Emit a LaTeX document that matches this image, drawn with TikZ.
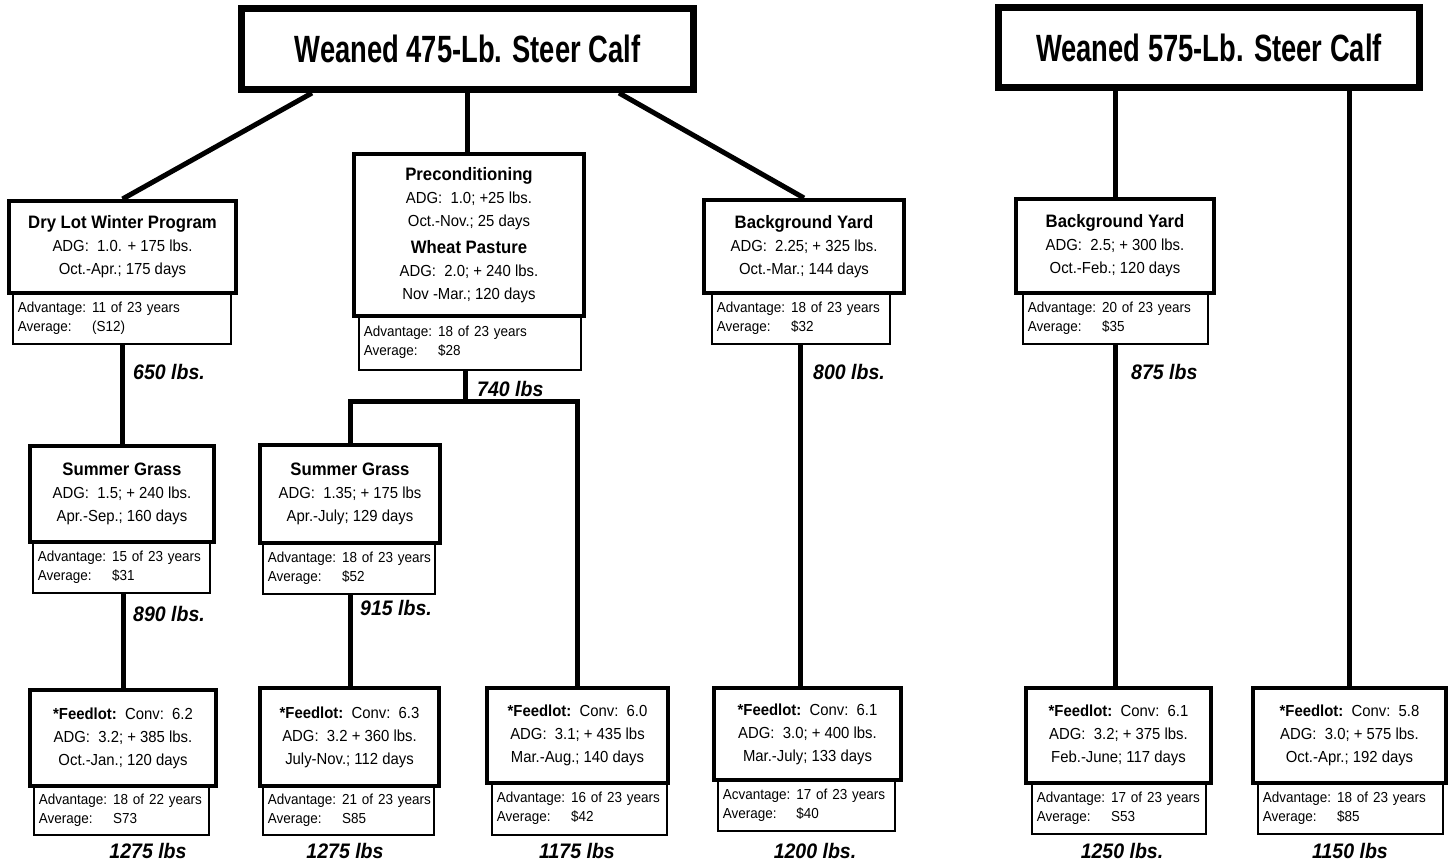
\documentclass[tikz,border=0pt]{standalone}
\usepackage{fontspec}
\setmainfont[FakeStretch=0.93]{Liberation Sans}
\newfontfamily\titlefont[FakeStretch=0.72]{Liberation Sans}
\usetikzlibrary{calc}
\newcommand\hd[1]{{\fontsize{18}{23}\selectfont\bfseries #1}}
\newcommand\advtab[2]{\begin{tabular}{@{}l@{\hspace{6pt}}l@{}}Advantage: & #1\\ Average: & #2\end{tabular}}
\tikzset{
  titlebox/.style={draw, line width=7pt, anchor=north west, inner sep=0pt, align=center,
    font=\titlefont\fontsize{38}{44}\selectfont\bfseries},
  mainbox/.style={draw, line width=4pt, anchor=north west, inner sep=0pt, align=center,
    font=\fontsize{16}{23}\selectfont},
  subbox/.style={draw, line width=1.8pt, anchor=north west, inner xsep=5pt, inner ysep=0pt,
    align=left, font=\fontsize{14.5}{19}\selectfont},
  wlabel/.style={inner sep=0pt, font=\fontsize{21}{24}\selectfont\bfseries\itshape},
  conn/.style={line width=5pt}
}
\begin{document}
\begin{tikzpicture}[x=1pt,y=-1pt]
\useasboundingbox (0,0) rectangle (1448,864);
% sub boxes
\node[subbox, minimum width=218, text width=208, minimum height=52] (drysub) at (12,291) {\advtab{11 of 23 years}{(S12)}};
\node[subbox, minimum width=177, text width=167, minimum height=52] (sg1sub) at (32,540) {\advtab{15 of 23 years}{\$31}};
\node[subbox, minimum width=175, text width=165, minimum height=50] (fl1sub) at (33,784) {\advtab{18 of 22 years}{S73}};
\node[subbox, minimum width=222, text width=212, minimum height=55] (precsub) at (358,314) {\advtab{18 of 23 years}{\$28}};
\node[subbox, minimum width=172, text width=162, minimum height=52] (sg2sub) at (262,541) {\advtab{18 of 23 years}{\$52}};
\node[subbox, minimum width=171, text width=161, minimum height=50] (fl2sub) at (262,784) {\advtab{21 of 23 years}{S85}};
\node[subbox, minimum width=175, text width=165, minimum height=53] (fl3sub) at (491,781) {\advtab{16 of 23 years}{\$42}};
\node[subbox, minimum width=178, text width=168, minimum height=52] (by1sub) at (711,291) {\advtab{18 of 23 years}{\$32}};
\node[subbox, minimum width=177, text width=167, minimum height=52] (fl4sub) at (717,778) {\begin{tabular}{@{}l@{\hspace{6pt}}l@{}}Acvantage: & 17 of 23 years\\ Average: & \$40\end{tabular}};
\node[subbox, minimum width=185, text width=175, minimum height=52] (by2sub) at (1022,291) {\advtab{20 of 23 years}{\$35}};
\node[subbox, minimum width=174, text width=164, minimum height=52] (fl5sub) at (1031,781) {\advtab{17 of 23 years}{S53}};
\node[subbox, minimum width=185, text width=175, minimum height=52] (fl6sub) at (1257,781) {\advtab{18 of 23 years}{\$85}};
% title boxes
\node[titlebox, minimum width=452, minimum height=81] (t1) at (238,5) {Weaned 475-Lb. Steer Calf};
\node[titlebox, minimum width=421, minimum height=80] (t2) at (995,4) {Weaned 575-Lb. Steer Calf};
% main boxes
\node[mainbox, minimum width=227, minimum height=92] (dry) at (7,199) {\hd{Dry Lot Winter Program}\\ADG:\ \ 1.0. + 175 lbs.\\Oct.-Apr.; 175 days};
\node[mainbox, minimum width=184, minimum height=96] (sg1) at (28,444) {\hd{Summer Grass}\\ADG:\ \ 1.5; + 240 lbs.\\Apr.-Sep.; 160 days};
\node[mainbox, minimum width=186, minimum height=96] (fl1) at (28,688) {\textbf{*Feedlot:}\ \ Conv:\ \ 6.2\\ADG:\ \ 3.2; + 385 lbs.\\Oct.-Jan.; 120 days};
\node[mainbox, minimum width=230, minimum height=162] (prec) at (352,152) {\hd{Preconditioning}\\ADG:\ \ 1.0; +25 lbs.\\Oct.-Nov.; 25 days\\[4pt]\hd{Wheat Pasture}\\ADG:\ \ 2.0; + 240 lbs.\\Nov -Mar.; 120 days};
\node[mainbox, minimum width=180, minimum height=98] (sg2) at (258,443) {\hd{Summer Grass}\\ADG:\ \ 1.35; + 175 lbs\\Apr.-July; 129 days};
\node[mainbox, minimum width=179, minimum height=98] (fl2) at (258,686) {\textbf{*Feedlot:}\ \ Conv:\ \ 6.3\\ADG:\ \ 3.2 + 360 lbs.\\July-Nov.; 112 days};
\node[mainbox, minimum width=181, minimum height=95] (fl3) at (485,686) {\textbf{*Feedlot:}\ \ Conv:\ \ 6.0\\ADG:\ \ 3.1; + 435 lbs\\Mar.-Aug.; 140 days};
\node[mainbox, minimum width=200, minimum height=93] (by1) at (702,198) {\hd{Background Yard}\\ADG:\ \ 2.25; + 325 lbs.\\Oct.-Mar.; 144 days};
\node[mainbox, minimum width=187, minimum height=92] (fl4) at (712,686) {\textbf{*Feedlot:}\ \ Conv:\ \ 6.1\\ADG:\ \ 3.0; + 400 lbs.\\Mar.-July; 133 days};
\node[mainbox, minimum width=198, minimum height=94] (by2) at (1014,197) {\hd{Background Yard}\\ADG:\ \ 2.5; + 300 lbs.\\Oct.-Feb.; 120 days};
\node[mainbox, minimum width=185, minimum height=95] (fl5) at (1024,686) {\textbf{*Feedlot:}\ \ Conv:\ \ 6.1\\ADG:\ \ 3.2; + 375 lbs.\\Feb.-June; 117 days};
\node[mainbox, minimum width=193, minimum height=95] (fl6) at (1251,686) {\textbf{*Feedlot:}\ \ Conv:\ \ 5.8\\ADG:\ \ 3.0; + 575 lbs.\\Oct.-Apr.; 192 days};
% connectors
\coordinate (j) at (465,401);
\draw[conn] ($(t1.south west)+(74,0)$) -- (dry.north);
\draw[conn] (t1.south) -- (t1.south |- prec.north);
\draw[conn] ($(t1.south east)+(-78,0)$) -- (by1.north);
\draw[conn] (by2.north |- t2.south) -- (by2.north);
\draw[conn] (fl6.north |- t2.south) -- (fl6.north);
\draw[conn] (drysub.south -| sg1.north) -- (sg1.north);
\draw[conn] (sg1sub.south -| fl1.north) -- (fl1.north);
\draw[conn] (precsub.south -| j) -- (j);
\draw[conn] (sg2.north) |- (fl3.north |- j) -- (fl3.north);
\draw[conn] (sg2sub.south -| sg2.north) -- (sg2.north |- fl2.north);
\draw[conn] (by1sub.south) -- (by1sub.south |- fl4.north);
\draw[conn] (by2sub.south) -- (by2sub.south |- fl5.north);
% weight labels
\node[wlabel, anchor=west] (w650) at (133,372) {650 lbs.};
\node[wlabel, anchor=west] (w890) at (133,614) {890 lbs.};
\node[wlabel, anchor=west] (w740) at (477,389) {740 lbs};
\node[wlabel, anchor=west] (w915) at (360,608) {915 lbs.};
\node[wlabel, anchor=west] (w800) at (813,372) {800 lbs.};
\node[wlabel, anchor=west] (w875) at (1131,372) {875 lbs};
\node[wlabel] (b1) at (148,851) {1275 lbs};
\node[wlabel] (b2) at (345,851) {1275 lbs};
\node[wlabel] (b3) at (577,851) {1175 lbs};
\node[wlabel] (b4) at (815,851) {1200 lbs.};
\node[wlabel] (b5) at (1122,851) {1250 lbs.};
\node[wlabel] (b6) at (1350,851) {1150 lbs};
\end{tikzpicture}
\end{document}
